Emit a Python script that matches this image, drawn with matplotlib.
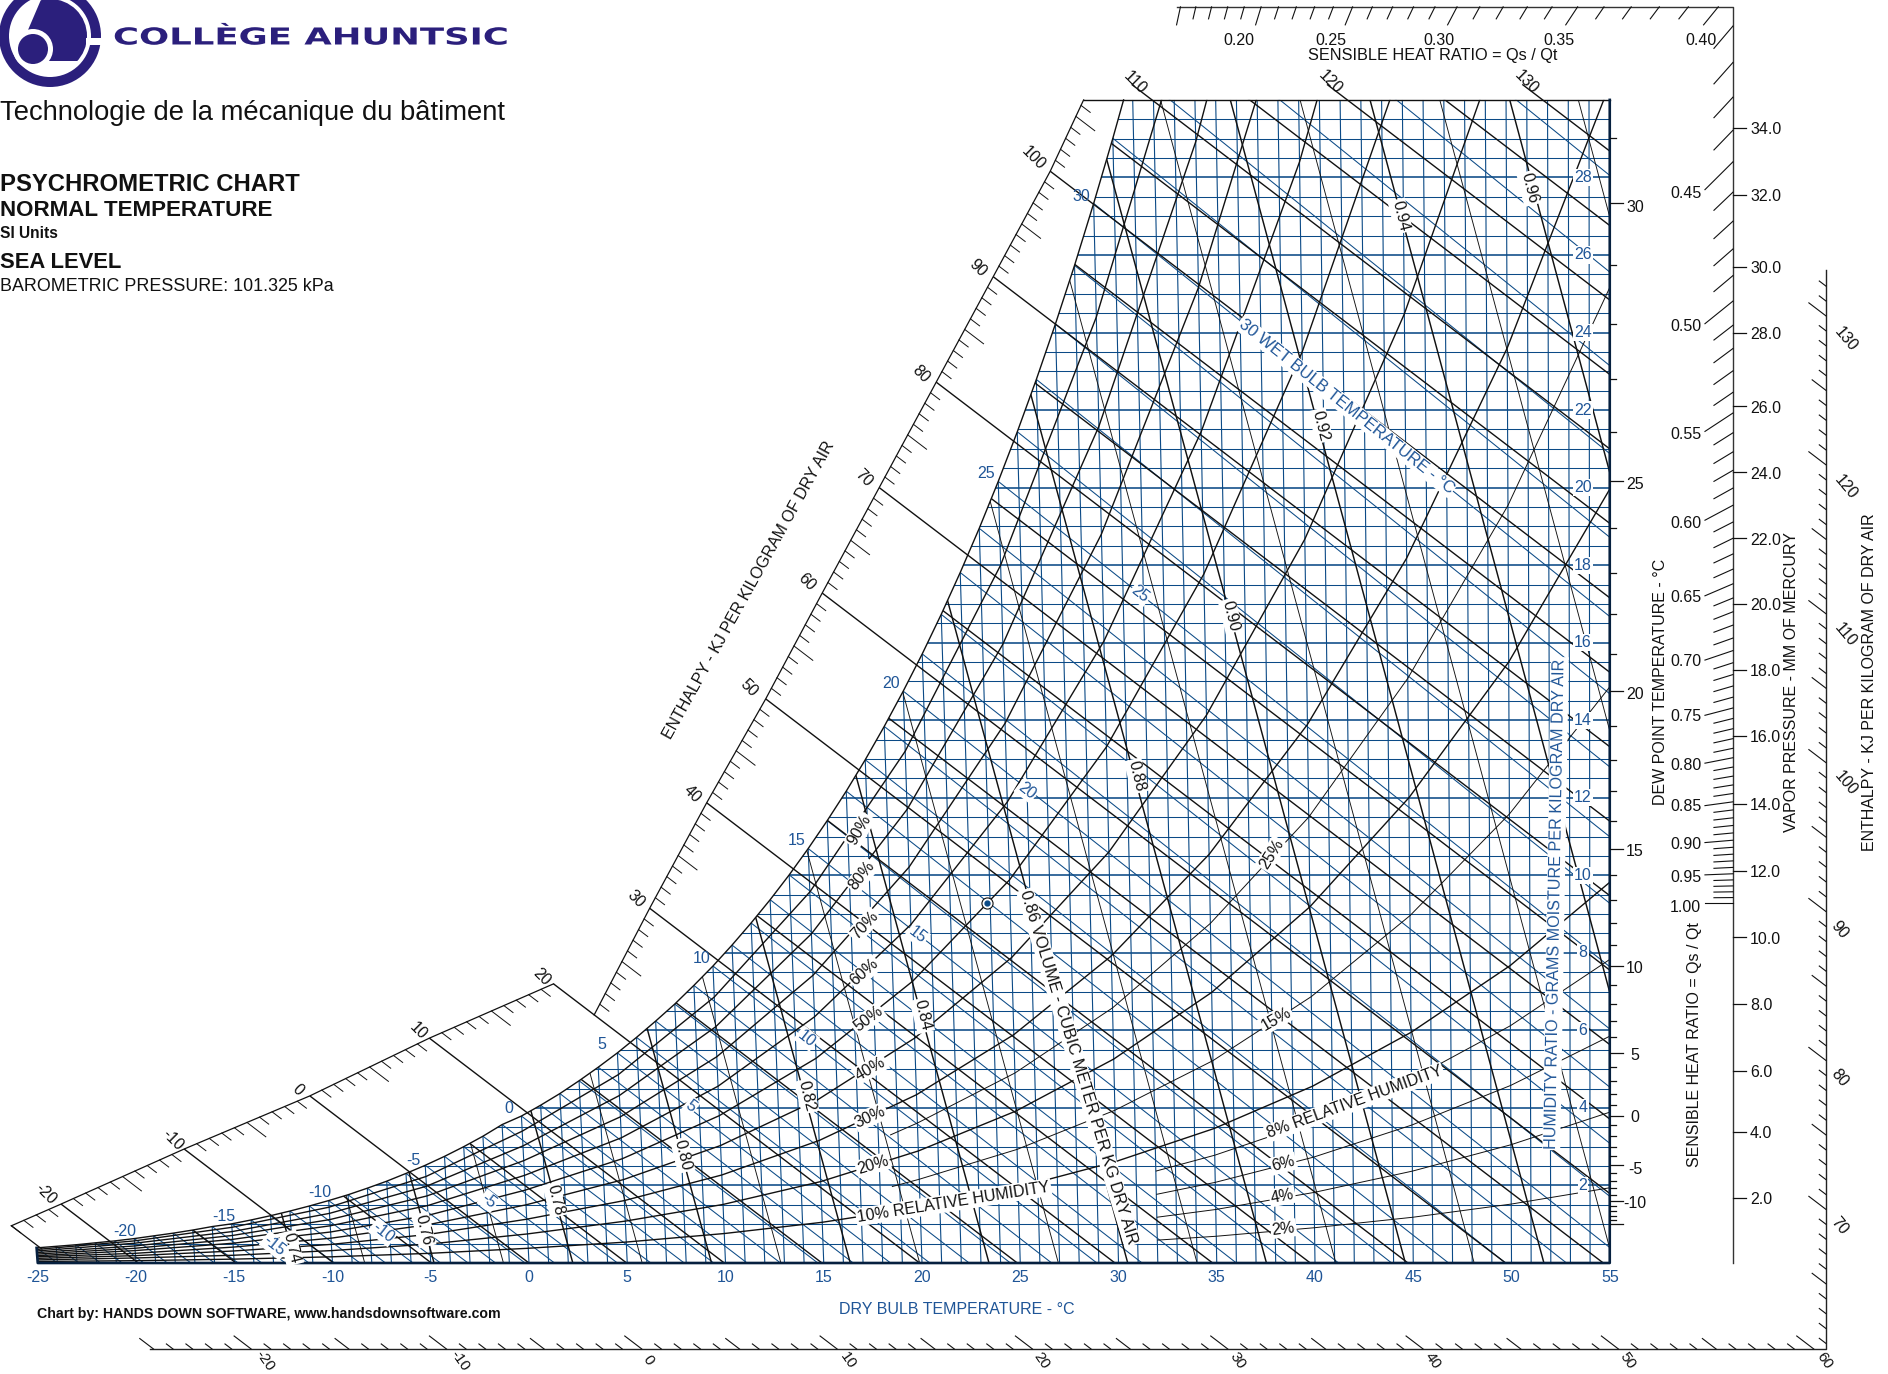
"""Psychrometric chart, normal temperature, SI units, sea level."""

import matplotlib

matplotlib.use("Agg")
import matplotlib.pyplot as plt
import numpy as np
from matplotlib.patches import Circle, Polygon, Rectangle, Wedge
from matplotlib.patheffects import AbstractPathEffect
from matplotlib.transforms import Affine2D

plt.rcParams["font.family"] = ["Liberation Sans", "DejaVu Sans"]

WIDTH, HEIGHT = 1888, 1374
BLUE = "#0b4a86"
TEXT_BLUE = "#1f5597"
LOGO = "#2b1f7c"
INK = "#111111"

# chart frame in pixels
X_AT_ZERO = 529.0
Y_AT_ZERO = 1263.0
PX_T = 19.65
PX_W = 38.77
SKEW = 0.00185
ENTH_SLOPE = 2.588
PAGE = 1.204

dry_bulb = list(range(-25, 56))
humidity_ratio = [v / 2 for v in range(1, 60)]

wet_bulb = list(range(-25, 36))
sat_w = [
    0.39, 0.43, 0.47, 0.52, 0.57, 0.63, 0.70, 0.77, 0.85, 0.94,
    1.01, 1.11, 1.22, 1.34, 1.47, 1.61, 1.76, 1.93, 2.11, 2.31,
    2.52, 2.75, 3.00, 3.27, 3.57, 3.79, 4.07, 4.37, 4.70, 5.05,
    5.42, 5.82, 6.24, 6.68, 7.16, 7.66, 8.20, 8.77, 9.37, 10.01,
    10.69, 11.41, 12.17, 12.98, 13.84, 14.75, 15.71, 16.73, 17.81, 18.95,
    20.16, 21.44, 22.79, 24.22, 25.73, 27.33, 29.01, 30.79, 32.67, 34.7, 36.8,
]
wet_bulb_end = [
    -24.0, -22.9, -21.8, -20.7, -19.6, -18.4, -17.2, -16.0, -14.8, -13.6,
    -12.4, -11.2, -9.9, -8.6, -7.3, -5.9, -4.5, -3.1, -1.7, -0.2,
    1.3, 2.9, 4.5, 6.2, 7.9, 9.4, 11.1, 12.8, 14.7, 16.5,
    18.4, 20.4, 22.4, 24.5, 26.6, 28.9, 31.2, 33.6, 36.0, 38.6,
    41.2, 43.9, 46.8, 49.7, 52.8, 56.0, 59.3, 62.7, 66.3, 70.0,
    74.0, 78.0, 82.2, 86.6, 91.2, 96.1, 101.0, 106.2, 111.7, 117.5, 123.5,
]
sat_end_t = 31.56
sat_end_w = 30.0

rh_t = [-25, -20, -15, -10, -5, 0, 5, 10, 15, 20, 25, 30, 35, 40, 45, 50, 55]
rh_90 = [0.35, 0.57, 0.92, 1.44, 2.23, 3.40, 4.86, 6.86, 9.57, 13.20, 18.0, 24.4, 32.7]
rh_80 = [0.31, 0.51, 0.81, 1.28, 1.98, 3.02, 4.32, 6.09, 8.49, 11.70, 15.96, 21.58, 28.92, 38.5]
rh_70 = [0.27, 0.44, 0.71, 1.12, 1.73, 2.64, 3.77, 5.32, 7.42, 10.21, 13.92, 18.80, 25.16, 33.4]
rh_60 = [0.23, 0.38, 0.61, 0.96, 1.48, 2.26, 3.23, 4.56, 6.35, 8.73, 11.89, 16.04, 21.44, 28.4, 37.5]
rh_50 = [0.19, 0.32, 0.51, 0.80, 1.23, 1.88, 2.69, 3.80, 5.28, 7.27, 9.88, 13.31, 17.77, 23.5, 30.9]
rh_40 = [0.16, 0.25, 0.41, 0.64, 0.99, 1.50, 2.15, 3.03, 4.21, 5.80, 7.88, 10.6, 14.13, 18.67, 24.48, 31.9]
rh_30 = [0.12, 0.19, 0.31, 0.48, 0.74, 1.13, 1.61, 2.27, 3.16, 4.34, 5.89, 7.92, 10.54, 13.89, 18.18, 23.6, 30.4]
rh_20 = [0.08, 0.13, 0.20, 0.32, 0.49, 0.75, 1.08, 1.51, 2.10, 2.89, 3.92, 5.26, 6.98, 9.19, 12.0, 15.5, 19.96]
rh_10 = [0.04, 0.06, 0.10, 0.16, 0.25, 0.38, 0.54, 0.76, 1.05, 1.44, 1.95, 2.62, 3.47, 4.56, 5.95, 7.67, 9.82]

thin_rh_t = [18.6, 20, 25, 30, 35, 40, 45, 50, 55]
rh_25 = [3.30, 3.61, 4.90, 6.58, 8.76, 11.5, 15.08, 19.54, 25.16]
rh_15 = [1.97, 2.16, 2.93, 3.94, 5.22, 6.87, 8.96, 11.58, 14.86]

low_rh_t = [32, 35, 40, 45, 50, 55]
rh_08 = [2.37, 2.78, 3.64, 4.74, 6.12, 7.83]
rh_06 = [1.77, 2.08, 2.73, 3.56, 4.58, 5.85]
rh_04 = [1.18, 1.38, 1.82, 2.37, 3.05, 3.89]
rh_02 = [0.59, 0.69, 0.91, 1.18, 1.52, 1.94]

enthalpy_major = list(range(-20, 131, 10))
enthalpy_mid = list(range(-15, 131, 10))
enthalpy_start_w = [1.52, 2.94, 4.31, 5.8, 7.2, 9.15, 11.87, 14.55, 17.28, 20.0,
                    22.72, 25.44, 28.16, 30.4, 30.4, 30.4]
low_scale_h = [-24, -20, -10, 0, 10, 20]
low_scale_w = [0.96, 1.52, 2.94, 4.31, 5.8, 7.2]
high_scale_h = [20, 30, 40, 50, 60, 70, 80, 90, 100, 106.5]
high_scale_w = [6.4, 9.15, 11.87, 14.55, 17.28, 20.0, 22.72, 25.44, 28.16, 30.0]

volume = [0.74, 0.75, 0.76, 0.77, 0.78, 0.79, 0.80, 0.81, 0.82, 0.83, 0.84, 0.85,
          0.86, 0.87, 0.88, 0.89, 0.90, 0.91, 0.92, 0.93, 0.94, 0.95, 0.96, 0.97]
volume_bottom = [-11.9, -8.36, -4.83, -1.3, 2.23, 5.76, 9.29, 12.82, 16.35, 19.88, 23.41, 26.94,
                 30.47, 34.0, 37.53, 41.06, 44.6, 48.1, 51.65, 55.2, 58.7, 62.3, 65.8, 69.3]
volume_top = [-28.3, -24.74, -21.18, -17.63, -14.08, -10.52, -6.97, -3.41, 0.15, 3.69, 7.25, 10.81,
              14.37, 17.92, 21.47, 25.03, 28.58, 32.14, 35.69, 39.24, 42.8, 46.35, 49.91, 53.4]

vapor_mmhg = [2, 4, 6, 8, 10, 12, 14, 16, 18, 20, 22, 24, 26, 28, 30, 32, 34]
vapor_w = [1.68, 3.39, 4.96, 6.69, 8.4, 10.12, 11.85, 13.6, 15.3, 17.0, 18.7, 20.4, 22.1, 24.0, 25.7, 27.55, 29.28]

shr_values = [v / 100 for v in range(15, 101)]
shr_k_s = [0.15, 0.41, 0.45, 0.50, 0.55, 0.60, 0.65, 0.70, 0.75, 0.80, 0.85, 0.90, 0.95, 1.00]
shr_k = [0.817, 0.817, 0.813, 0.807, 0.803, 0.80, 0.795, 0.79, 0.785, 0.78, 0.77, 0.76, 0.75, 0.75]

water_labels = list(range(2, 29, 2))
bottom_labels = list(range(-25, 56, 5))
outer_bottom_labels = list(range(-20, 61, 10))
outer_right_labels = list(range(70, 131, 10))

fig = plt.figure(figsize=(WIDTH / 100, HEIGHT / 100), dpi=100, facecolor="white")
chart = fig.add_axes([0, 0, 1, 1])
chart.set_xlim(-X_AT_ZERO / PX_T, (WIDTH - X_AT_ZERO) / PX_T)
chart.set_ylim((Y_AT_ZERO - HEIGHT) / PX_W, Y_AT_ZERO / PX_W)
chart.axis("off")

page = fig.add_axes([0, 0, 1, 1], facecolor="none")
page.set_xlim(0, WIDTH)
page.set_ylim(HEIGHT, 0)
page.axis("off")


class WideLetters(AbstractPathEffect):
    """Stretch a text sideways, the logo lettering is an extended face."""

    def __init__(self, stretch, left):
        super().__init__()
        self.stretch = stretch
        self.left = left

    def draw_path(self, renderer, gc, tpath, affine, rgbFace=None):
        widen = Affine2D().translate(-self.left, 0).scale(self.stretch, 1).translate(self.left, 0)
        renderer.draw_path(gc, tpath, affine + widen, rgbFace)


def skewed(temperature, w):
    """Dry bulb lines lean to the left, except 55 C which is upright."""
    temperature = np.asarray(temperature, dtype=float)
    w = np.asarray(w, dtype=float)
    return temperature + SKEW * (temperature - 55) * w


def enth_x(h, w):
    return np.asarray(h, dtype=float) / 1.006 - ENTH_SLOPE * np.asarray(w, dtype=float)


sat_t_line = wet_bulb[:57] + [sat_end_t]
sat_w_line = sat_w[:57] + [sat_end_w]
sat_x_line = skewed(sat_t_line, sat_w_line)

inside = Polygon(
    list(zip(sat_x_line, sat_w_line)) + [(55, sat_end_w), (55, 0), (-25, 0)],
    closed=True, facecolor="none", edgecolor="none",
)
chart.add_patch(inside)
below_top = Rectangle((-60, 0), 115, 40, facecolor="none", edgecolor="none")
chart.add_patch(below_top)


def clipped(xs, ys, clip, **kwargs):
    line, = chart.plot(xs, ys, solid_capstyle="butt", **kwargs)
    line.set_clip_path(clip)
    return line


# blue grid
for temperature in dry_bulb:
    clipped(skewed([temperature, temperature], [0, 30]), [0, 30], inside,
            color=BLUE, lw=0.8, zorder=1)
for w in humidity_ratio:
    clipped([-25, 55], [w, w], inside, color=BLUE, lw=1.15 if w % 2 == 0 else 0.75, zorder=1)
for temperature, w, end in zip(wet_bulb, sat_w, wet_bulb_end):
    clipped([skewed(temperature, w), end], [w, 0], inside, color=BLUE, lw=0.75, zorder=2)

# volume
for value, bottom, top in zip(volume, volume_bottom, volume_top):
    heavy = round(value * 100) % 2 == 0
    clipped([bottom, top], [0, 30], inside, color=INK, lw=1.05 if heavy else 0.65, zorder=3)

# relative humidity
for series in (rh_90, rh_80, rh_70, rh_60, rh_50, rh_40, rh_30, rh_20, rh_10):
    temps = rh_t[:len(series)]
    clipped(skewed(temps, series), series, inside, color=INK, lw=1.0, zorder=3)
for series in (rh_25, rh_15):
    clipped(skewed(thin_rh_t, series), series, inside, color=INK, lw=0.7, zorder=3)
for series in (rh_08, rh_06, rh_04, rh_02):
    clipped(skewed(low_rh_t, series), series, inside, color=INK, lw=0.7, zorder=3)

# enthalpy lines
for h, start in zip(enthalpy_major, enthalpy_start_w):
    clipped(enth_x([h, h], [start, 0]), [start, 0], below_top, color=INK, lw=1.0, zorder=3)
for h in enthalpy_mid:
    clipped(enth_x([h, h], [32, 0]), [32, 0], inside, color=INK, lw=1.0, zorder=3)

# saturation curve and frame
chart.plot(sat_x_line, sat_w_line, color=INK, lw=1.0, zorder=4)
chart.plot([enth_x(high_scale_h[-1], 30), 55], [30, 30], color=INK, lw=1.0, zorder=4)
chart.plot([skewed(-25, sat_w[0]), -25, 55, 55], [sat_w[0], 0, 0, 30], color="#06203f", lw=1.9, zorder=4)

# enthalpy scale on the saturation side
chart.plot(enth_x(low_scale_h, low_scale_w), low_scale_w, color=INK, lw=0.9, zorder=4)
chart.plot(enth_x(high_scale_h, high_scale_w), high_scale_w, color=INK, lw=0.9, zorder=4)
chart.plot(enth_x([-24, -24], [0.96, 0.36]), [0.96, 0.36], color=INK, lw=0.9, zorder=4)
for scale_h, scale_w in ((low_scale_h, low_scale_w), (high_scale_h, high_scale_w)):
    for h in range(int(np.ceil(scale_h[0])), int(scale_h[-1]) + 1):
        if h % 10 == 0:
            continue
        w = np.interp(h, scale_h, scale_w)
        drop = 0.37 if h % 5 == 0 else 0.18
        chart.plot(enth_x([h, h], [w, w - drop]), [w, w - drop], color=INK, lw=0.7, zorder=4)

# dew point ticks on the right edge
for temperature, w in zip(wet_bulb, sat_w):
    if temperature < -15 or temperature > 31:
        continue
    length = 13 if temperature % 5 == 0 else 6.7
    chart.plot([55, 55 + length / PX_T], [w, w], color=INK, lw=0.9, zorder=4)

# vapor pressure and sensible heat ratio scales
SHR_X = 61.27
SHR_TOP = 32.4
ORIGIN_X, ORIGIN_W = 23.3, 9.28
RUN = (SHR_X - ORIGIN_X) * PX_T
RISE = (SHR_TOP - ORIGIN_W) * PX_W
chart.plot([(1177 - X_AT_ZERO) / PX_T, SHR_X, SHR_X], [SHR_TOP, SHR_TOP, 0], color="#333333", lw=1.0)
for value in shr_values:
    slope = np.interp(value, shr_k_s, shr_k) * (1 / value - 1)
    major = round(value * 100) % 5 == 0
    if slope * RUN <= RISE:
        w0 = ORIGIN_W + slope * RUN / PX_W
        dx = 28 if major else 19
        chart.plot([SHR_X, SHR_X - dx / PX_T], [w0, w0 - dx * slope / PX_W], color=INK, lw=0.8)
    else:
        x0 = ORIGIN_X + RISE / slope / PX_T
        dy = 18 if major else 12
        chart.plot([x0, x0 - dy / slope / PX_T], [SHR_TOP, SHR_TOP - dy / PX_W], color=INK, lw=0.8)
for value, w in zip(vapor_mmhg, vapor_w):
    chart.plot([SHR_X, SHR_X + 13 / PX_T], [w, w], color=INK, lw=0.9)
    page.text(X_AT_ZERO + SHR_X * PX_T + 17, Y_AT_ZERO - w * PX_W + 2, f"{value:.1f}",
              fontsize=11.5, va="center", ha="left", color=INK)

# outer enthalpy scale
OUTER_W = -2.218
OUTER_X = 66.0
chart.plot([enth_x(-25.2, OUTER_W), OUTER_X, OUTER_X], [OUTER_W, OUTER_W, 25.6], color="#222222", lw=1.0)
for h in range(-25, 133):
    if h % 10 == 0:
        rise = 0.335
    elif h % 5 == 0:
        rise = 0.27
    else:
        rise = 0.13
    w0 = OUTER_W
    if enth_x(h, OUTER_W) > OUTER_X:
        w0 = (h / 1.006 - OUTER_X) / ENTH_SLOPE
    chart.plot(enth_x([h, h], [w0, w0 + rise]), [w0, w0 + rise], color=INK, lw=0.8)

# state point
chart.plot([ORIGIN_X], [ORIGIN_W], marker="o", ms=8, mfc="white", mec=INK, mew=0.8, zorder=5)
chart.plot([ORIGIN_X], [ORIGIN_W], marker="o", ms=3.5, color=BLUE, zorder=6)


def label(x, y, text, size=11.5, color=INK, rotation=0, mask=False, **kwargs):
    """Place a label from a position read on the page."""
    style = dict(ha="center", va="center", rotation_mode="anchor")
    style.update(kwargs)
    if mask:
        style["bbox"] = dict(facecolor="white", edgecolor="none", pad=1.0)
    page.text(x * PAGE, (y + 1.5) * PAGE, text, fontsize=size, color=color, rotation=rotation, zorder=8, **style)


# logo
dome = Circle((50, 36), 37, facecolor=LOGO, edgecolor="none")
page.add_patch(dome)
dome_edge = Polygon([(43, -5), (28, 30), (40, 40), (48, 61), (100, 61), (100, -5)],
                    closed=True, facecolor="none", edgecolor="none")
page.add_patch(dome_edge)
dome.set_clip_path(dome_edge)
page.add_patch(Wedge((50, 36), 51, 0, 360, width=10, facecolor=LOGO, edgecolor="none"))
page.add_patch(Circle((33, 49), 20, facecolor="white", edgecolor="none"))
page.add_patch(Circle((33, 49), 15, facecolor=LOGO, edgecolor="none"))
page.add_patch(Rectangle((86, 38), 18, 7, facecolor="white", edgecolor="none"))
page.text(113, 38, "COLLÈGE AHUNTSIC", fontsize=16.8, color=LOGO, fontweight="bold",
          family=["DejaVu Sans"], va="center", ha="left", path_effects=[WideLetters(1.52, 113)])

# title block
for y, text, size, weight in (
    (92.5, "Technologie de la mécanique du bâtiment", 19.7, "normal"),
    (151.5, "PSYCHROMETRIC CHART", 17.2, "bold"),
    (173.5, "NORMAL TEMPERATURE", 16.1, "bold"),
    (192.5, "SI Units", 11.2, "bold"),
    (216.5, "SEA LEVEL", 15.8, "bold"),
    (236.5, "BAROMETRIC PRESSURE: 101.325 kPa", 12.9, "normal"),
):
    label(0, y, text, size=size, fontweight=weight, ha="left")
label(31, 1090, "Chart by: HANDS DOWN SOFTWARE, www.handsdownsoftware.com", size=10.2,
      fontweight="bold", ha="left")

# axis titles
label(622, 489, "ENTHALPY - KJ PER KILOGRAM OF DRY AIR", size=11.5, rotation=61)
label(1553, 565, "ENTHALPY - KJ PER KILOGRAM OF DRY AIR", size=11.5, rotation=90)
label(1488, 565, "VAPOR PRESSURE - MM OF MERCURY", size=11.5, rotation=90)
label(1407, 866, "SENSIBLE HEAT RATIO = Qs / Qt", size=11.5, rotation=90)
label(1379, 565, "DEW POINT TEMPERATURE - °C", size=11.5, rotation=90)
label(1190, 45, "SENSIBLE HEAT RATIO = Qs / Qt", size=11.7)
label(795, 1086, "DRY BULB TEMPERATURE - °C", size=11.5, color=TEXT_BLUE)
label(1292, 749, "HUMIDITY RATIO - GRAMS MOISTURE PER KILOGRAM DRY AIR", size=11.6, color=TEXT_BLUE,
      rotation=89, mask=True)
label(1118, 336, "30 WET BULB TEMPERATURE - °C", size=12, color=TEXT_BLUE, rotation=-38.5, mask=True)
label(896, 885, "0.86 VOLUME - CUBIC METER PER KG DRY AIR", size=11.8, rotation=-73, mask=True)
label(792, 997, "10% RELATIVE HUMIDITY", size=11.5, rotation=9, mask=True)
label(1125, 914, "8% RELATIVE HUMIDITY", size=11.5, rotation=20, mask=True)

# relative humidity labels
for x, y, text, angle in (
    (714, 688, "90%", 60), (716, 726, "80%", 52), (718, 767, "70%", 47), (718, 806, "60%", 42),
    (721, 845, "50%", 37), (723, 886, "40%", 30), (723, 926, "30%", 25), (725, 966, "20%", 17),
    (1066, 965, "6%", 15), (1065, 992, "4%", 11), (1066, 1019, "2%", 7),
    (1056, 708, "25%", 58), (1060, 845, "15%", 30),
):
    label(x, y, text, size=11.5, rotation=angle, mask=True)

# volume labels
for x, y, text in (
    (242, 1035, "0.74"), (352, 1020, "0.76"), (461, 995, "0.78"), (567, 958, "0.80"),
    (670, 909, "0.82"), (766, 842, "0.84"), (944, 643, "0.88"), (1022, 510, "0.90"),
    (1097, 352, "0.92"), (1163, 178, "0.94"), (1270, 155, "0.96"),
):
    label(x, y, text, size=11.5, rotation=-76, mask=True)

# wet bulb labels
for x, y, text in (
    (228, 1033, "-15"), (318, 1022, "-10"), (406, 996, "-5"), (574, 917, "5"),
    (670, 861, "10"), (762, 775, "15"), (853, 655, "20"), (947, 492, "25"),
):
    label(x, y, text, color=TEXT_BLUE, rotation=-38, mask=True)
for x, y, text in (
    (104, 1021, "-20"), (186, 1009, "-15"), (266, 989, "-10"), (343, 962, "-5"), (423, 919, "0"),
    (500, 866, "5"), (583, 795, "10"), (662, 697, "15"), (740, 566, "20"), (819, 392, "25"), (898, 162, "30"),
):
    label(x, y, text, color=TEXT_BLUE)

# dew point labels
for value, y in ((30, 171), (25, 401), (20, 575), (15, 706), (10, 803), (5, 875), (0, 927), (-5, 970), (-10, 998)):
    label(1358, y, str(value))

# humidity ratio labels
for value in water_labels:
    page.text(1583, Y_AT_ZERO - value * PX_W, str(value), fontsize=11.5, color=TEXT_BLUE, ha="center", va="center",
              zorder=8, bbox=dict(facecolor="white", edgecolor="none", pad=0.8))

# dry bulb labels
for value in bottom_labels:
    page.text(X_AT_ZERO + value * PX_T, Y_AT_ZERO + 15, str(value), fontsize=11.5, color=TEXT_BLUE,
              ha="center", va="center")

# enthalpy labels
for x, y, text in (
    (38, 990, "-20"), (143, 945, "-10"), (247, 904, "0"), (347, 855, "10"), (450, 810, "20"),
    (528, 745, "30"), (575, 658, "40"), (622, 570, "50"), (670, 482, "60"), (717, 396, "70"),
    (765, 309, "80"), (812, 221, "90"), (858, 130, "100"), (943, 67, "110"), (1105, 67, "120"), (1268, 67, "130"),
):
    label(x, y, text, rotation=-45)
for x, value in zip((220, 382, 538, 704, 865, 1028, 1190, 1352, 1515), outer_bottom_labels):
    label(x, 1128.5, str(value), size=11, rotation=-55)
for x, y, value in zip((1528, 1528, 1528, 1533, 1533, 1533, 1533), (1017, 894, 771, 649, 526, 403, 280),
                       outer_right_labels):
    label(x, y, str(value), rotation=-50)

# sensible heat ratio labels
for x, y, text in (
    (1029, 32, "0.20"), (1105, 32, "0.25"), (1195, 32, "0.30"), (1295, 32, "0.35"), (1413, 32, "0.40"),
    (1400, 159, "0.45"), (1400, 270, "0.50"), (1400, 359, "0.55"), (1400, 433, "0.60"), (1400, 495, "0.65"),
    (1400, 548, "0.70"), (1400, 594, "0.75"), (1400, 634, "0.80"), (1400, 668, "0.85"), (1400, 700, "0.90"),
    (1400, 727, "0.95"), (1400, 752, "1.00"),
):
    label(x, y, text)

fig.savefig("out.png", dpi=100)
plt.close(fig)
